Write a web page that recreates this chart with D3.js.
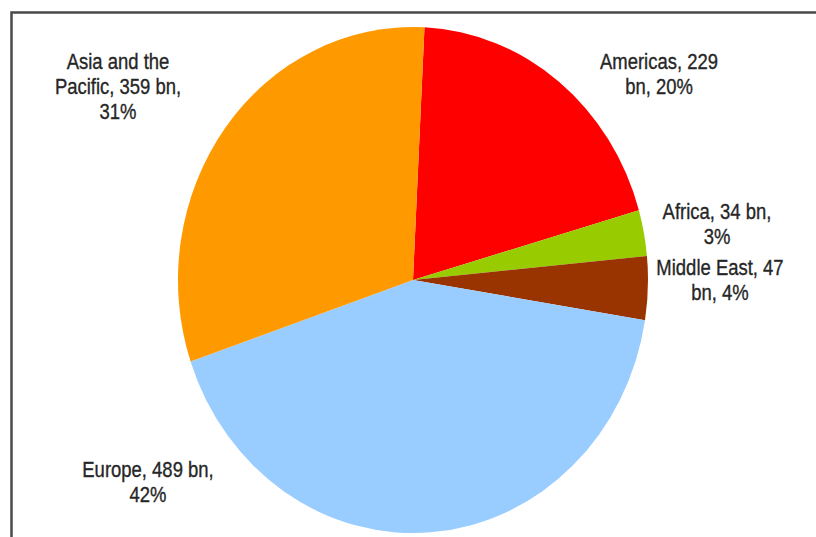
<!DOCTYPE html>
<html>
<head>
<meta charset="utf-8">
<script src="https://cdn.jsdelivr.net/npm/d3@7"></script>
<style>
  html, body { margin: 0; padding: 0; background: #fff; }
  svg { display: block; }
  .lbl { font-family: "Liberation Sans", Arial, sans-serif; fill: #262626; stroke: #262626; stroke-width: 0.35; }
</style>
</head>
<body>
<svg id="chart"></svg>
<script>
// data
const regions = ["Americas", "Africa", "Middle East", "Europe", "Asia and the Pacific"];
const values = [229, 34, 47, 489, 359];
const shares = [20, 3, 4, 42, 31];
const colors = ["#ff0000", "#99cc00", "#993300", "#99ccff", "#ff9900"];
const labelLines = [
  ["Americas, 229", "bn, 20%"],
  ["Africa, 34 bn,", "3%"],
  ["Middle East, 47", "bn, 4%"],
  ["Europe, 489 bn,", "42%"],
  ["Asia and the", "Pacific, 359 bn,", "31%"]
];

const width = 816, height = 537;
const cx = 413, cy = 280;
const rx = 235, ry = 253;

const svg = d3.select("#chart")
  .attr("width", width)
  .attr("height", height);

// frame (only top and left edges are in view)
svg.append("rect")
  .attr("x", 11.5)
  .attr("y", 12.5)
  .attr("width", 1000)
  .attr("height", 1000)
  .attr("fill", "none")
  .attr("stroke", "#4a4a4a")
  .attr("stroke-width", 2.5);

const data = regions.map((r, i) => ({ region: r, value: values[i], share: shares[i], color: colors[i], lines: labelLines[i] }));

const toRad = deg => deg * Math.PI / 180;
const start = toRad(2.8);

const pie = d3.pie()
  .sort(null)
  .value(d => d.value)
  .startAngle(start)
  .endAngle(start + 2 * Math.PI);

const arc = d3.arc()
  .innerRadius(0)
  .outerRadius(ry);

// pie is a little taller than wide in the picture
const g = svg.append("g")
  .attr("transform", `translate(${cx},${cy}) scale(${rx / ry},1)`);

g.selectAll("path")
  .data(pie(data))
  .enter()
  .append("path")
  .attr("d", arc)
  .attr("fill", d => d.data.color);

// label anchors (center of first line baseline), placed by hand like the original
const labelPos = [[659, 69], [717, 219], [720, 275], [148, 477], [118, 69]];
const lineH = 25;

const labels = svg.append("g");
data.forEach((d, i) => {
  const t = labels.append("text")
    .attr("class", "lbl")
    .attr("text-anchor", "middle")
    .attr("font-size", 22)
    .attr("transform", `translate(${labelPos[i][0]},${labelPos[i][1]}) scale(0.84,1)`);
  d.lines.forEach((line, j) => {
    t.append("tspan")
      .attr("x", 0)
      .attr("y", j * lineH)
      .text(line);
  });
});
</script>
</body>
</html>
